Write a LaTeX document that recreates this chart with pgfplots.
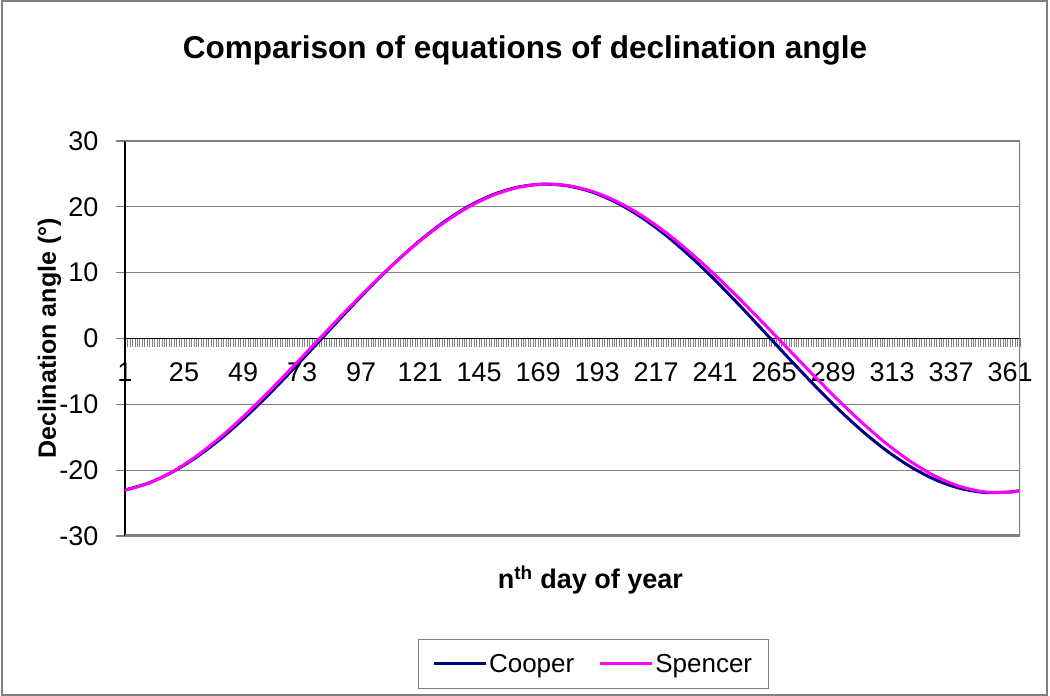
\documentclass[border=0pt]{standalone}
\usepackage{fontspec}
\setmainfont{Liberation Sans}
\usepackage{pgfplots}
\pgfplotsset{compat=1.18}
\definecolor{cooper}{RGB}{0,0,128}
\definecolor{spencer}{RGB}{255,0,255}
\definecolor{gridgray}{RGB}{128,128,128}
\begin{document}
\begin{tikzpicture}[x=1pt,y=1pt]
\useasboundingbox (0,0) rectangle (1050,696);
\fill[white] (0,0) rectangle (1050,696);
\draw[gridgray, line width=1.2pt] (2,1) rectangle (1047,695);
\begin{axis}[
  at={(125pt,160pt)}, anchor=south west,
  scale only axis, width=895pt, height=395pt,
  xmin=1, xmax=365, ymin=-30, ymax=30,
  axis x line=middle, axis y line=left,
  hide obscured x ticks=false, hide obscured y ticks=false,
  axis line style={-, black, line width=1.5pt},
  xtick={1,25,...,361}, minor xtick={1,...,365},
  ytick={-30,-20,...,30},
  xtick align=outside, ytick align=outside,
  major tick length=9pt, minor tick length=9pt,
  xtick style={gray, line width=0.6pt},
  minor tick style={gray, line width=0.6pt},
  ytick style={gridgray, line width=1.2pt},
  ymajorgrids, grid style={gridgray, line width=1.2pt},
  /pgf/number format/assume math mode=true,
  tick label style={font=\fontsize{27}{27}\selectfont},
  xticklabel style={anchor=north, yshift=-12pt},
  yticklabel style={anchor=east, xshift=-14pt},
  title={Comparison of equations of declination angle},
  title style={at={(axis description cs:0.447,1)}, anchor=base, yshift=76pt,
    font=\bfseries\fontsize{31.5}{31.5}\selectfont},
  xlabel={n\textsuperscript{th} day of year},
  xlabel style={at={(axis description cs:0.52,0)}, anchor=base, yshift=-53pt,
    font=\bfseries\fontsize{27}{27}\selectfont},
  every axis y label/.style={at={(axis description cs:0,0.5)}, xshift=-69pt,
    rotate=90, anchor=base, font=\bfseries\fontsize{25}{25}\selectfont},
  ylabel={Declination angle (°)},
  legend columns=2,
  legend style={at={(axis description cs:0.523,-0.324)}, anchor=center,
    draw=gridgray, line width=1pt, font=\fontsize{26}{26}\selectfont,
    inner xsep=14pt, inner ysep=13pt,
    /tikz/every even column/.append style={column sep=22pt}},
  legend image code/.code={\draw[#1] (0pt,0pt) -- (52pt,0pt);},
  every axis plot/.append style={line width=3pt, smooth},
]
\addplot[cooper] coordinates {(1,-23.01)(11,-21.90)(21,-20.14)(31,-17.78)(41,-14.90)(51,-11.58)(61,-7.92)(71,-4.02)(81,0.00)(91,4.02)(101,7.92)(111,11.58)(121,14.90)(131,17.78)(141,20.14)(151,21.90)(161,23.01)(171,23.44)(181,23.18)(191,22.24)(201,20.63)(211,18.42)(221,15.67)(231,12.44)(241,8.86)(251,5.01)(261,1.01)(271,-3.02)(281,-6.96)(291,-10.69)(301,-14.11)(311,-17.11)(321,-19.60)(331,-21.52)(341,-22.80)(351,-23.40)(361,-23.31)(365,-23.09)};
\addlegendentry{Cooper}
\addplot[spencer] coordinates {(1,-23.06)(11,-21.93)(21,-20.09)(31,-17.61)(41,-14.62)(51,-11.20)(61,-7.50)(71,-3.62)(81,0.33)(91,4.24)(101,8.02)(111,11.58)(121,14.83)(131,17.67)(141,20.02)(151,21.80)(161,22.96)(171,23.44)(181,23.24)(191,22.35)(201,20.82)(211,18.71)(221,16.09)(231,13.03)(241,9.65)(251,6.00)(261,2.19)(271,-1.70)(281,-5.57)(291,-9.33)(301,-12.86)(311,-16.07)(321,-18.81)(331,-21.00)(341,-22.52)(351,-23.32)(361,-23.34)(365,-23.13)};
\addlegendentry{Spencer}
\draw[gridgray, line width=3pt] (rel axis cs:0,0) -- (rel axis cs:1,0) -- (rel axis cs:1,1);
\draw[gridgray, line width=1.2pt] (rel axis cs:0,1) -- (rel axis cs:1,1);
\end{axis}
\end{tikzpicture}
\end{document}
